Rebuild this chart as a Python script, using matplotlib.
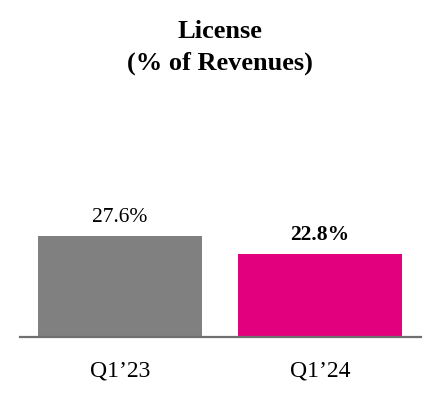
import matplotlib
matplotlib.use("Agg")
import matplotlib.pyplot as plt

categories = ["Q1\u201923", "Q1\u201924"]
values = [27.6, 22.8]
colors = ["#808080", "#E2007E"]
bold_flags = [False, True]

plt.rcParams['font.family'] = ['Liberation Serif', 'DejaVu Serif']

fig = plt.figure(figsize=(4.4, 4.0), dpi=100)
ax = fig.add_axes([20 / 440, 63 / 400, 401 / 440, 237 / 400])

x = [0, 1]
ax.bar(x, values, width=0.82, color=colors)
ax.set_xlim(-0.5, 1.505)
ax.set_ylim(0, 237 / 3.66)

for xi, v, b in zip(x, values, bold_flags):
    ax.annotate(f"{v:.1f}%", (xi, v), xytext=(0, 10), textcoords="offset points",
                ha="center", va="baseline", fontsize=15.5,
                fontweight="bold" if b else "normal")

for s in ["top", "right", "left"]:
    ax.spines[s].set_visible(False)
ax.spines["bottom"].set_color("#707070")
ax.spines["bottom"].set_linewidth(1.6)
ax.set_yticks([])
ax.set_xticks(x)
ax.set_xticklabels(categories, fontsize=17)
ax.tick_params(axis="x", length=0, pad=17)

fig.text(0.5, 1 - 38 / 400, "License", ha="center", va="baseline", fontsize=19, fontweight="bold")
fig.text(0.5, 1 - 70 / 400, "(% of Revenues)", ha="center", va="baseline", fontsize=19, fontweight="bold")

fig.savefig("out.png", dpi=100)
